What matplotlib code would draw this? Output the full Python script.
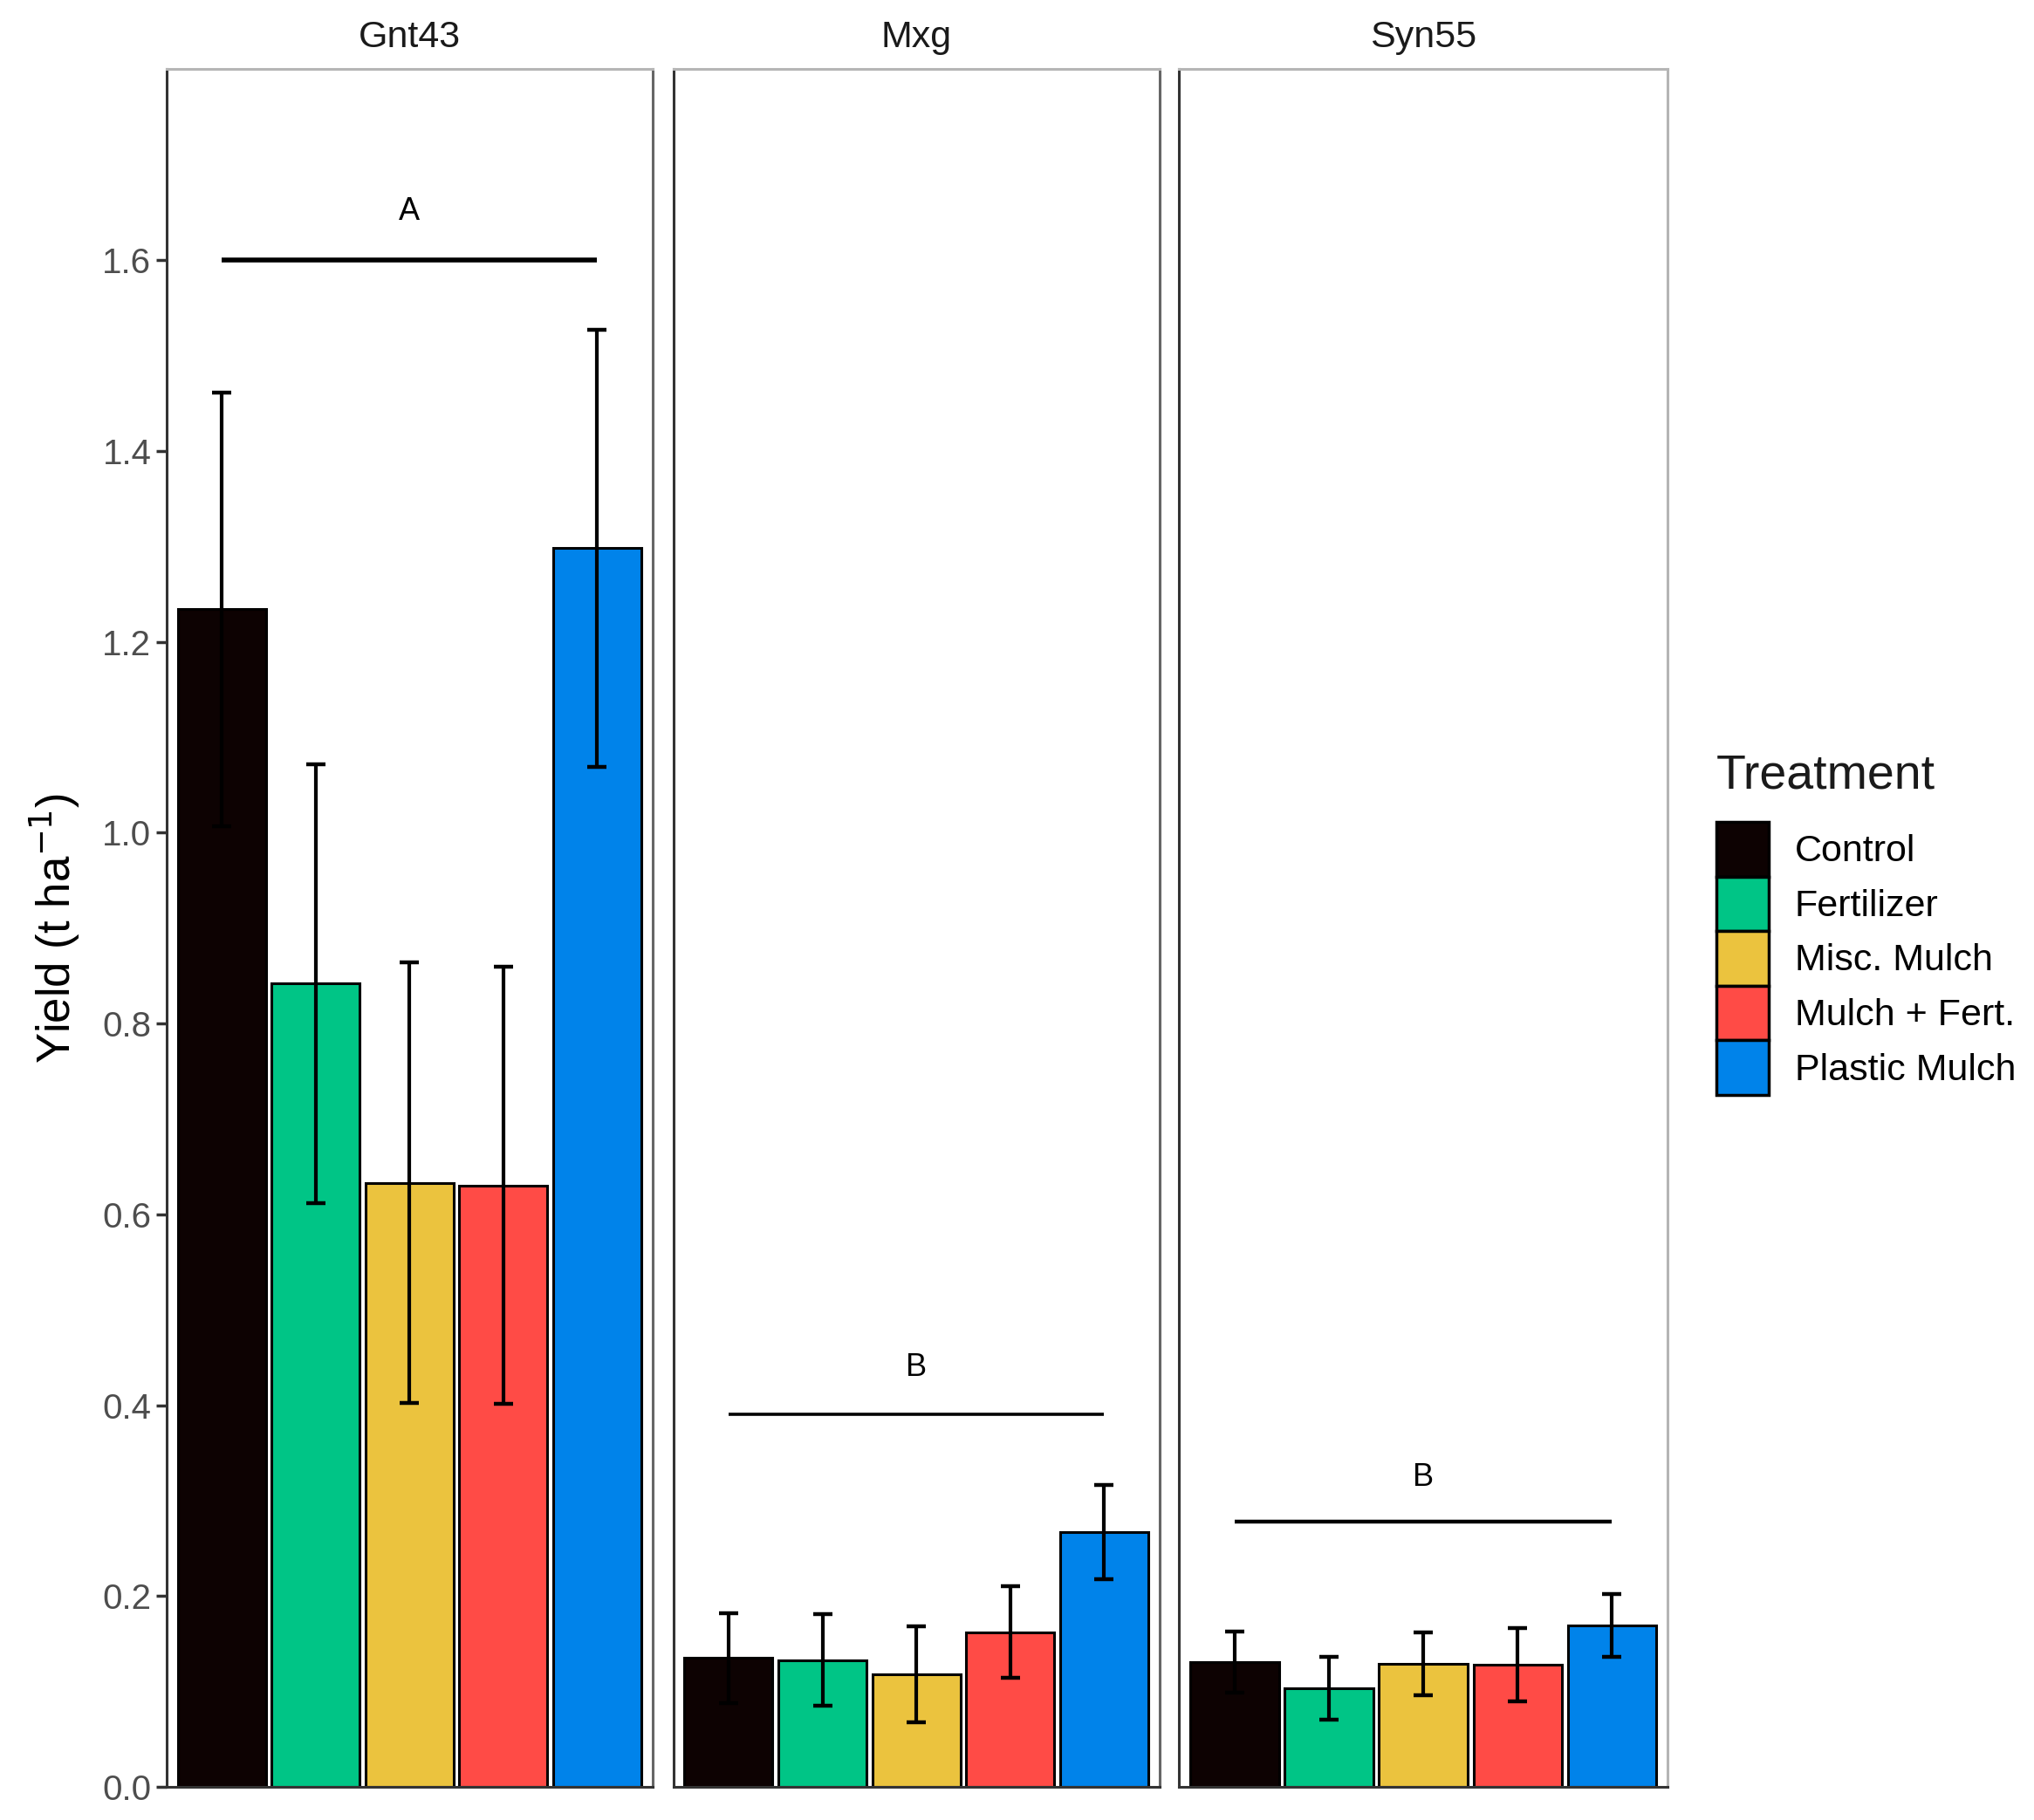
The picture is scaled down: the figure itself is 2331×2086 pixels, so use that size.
import matplotlib
matplotlib.use("Agg")
import matplotlib.pyplot as plt
from matplotlib.patches import Patch
import numpy as np

plt.rcParams['font.family'] = ['Liberation Sans', 'DejaVu Sans']

# ---- data ----
panels = ["Gnt43", "Mxg", "Syn55"]
treatments = ["Control", "Fertilizer", "Misc. Mulch", "Mulch + Fert.", "Plastic Mulch"]
colors = ["#0D0202", "#00C586", "#EBC33E", "#FF4B46", "#0083EA"]

gnt43_mean = [1.234, 0.842, 0.633, 0.630, 1.298]
gnt43_err = [0.227, 0.230, 0.231, 0.229, 0.229]
mxg_mean = [0.135, 0.133, 0.118, 0.162, 0.267]
mxg_err = [0.047, 0.048, 0.050, 0.048, 0.049]
syn55_mean = [0.131, 0.103, 0.129, 0.128, 0.169]
syn55_err = [0.032, 0.033, 0.033, 0.038, 0.033]

sig_letters = ["A", "B", "B"]
sig_line_y = [1.600, 0.390, 0.278]
sig_text_y = [1.651, 0.439, 0.324]

yticks = [0.0, 0.2, 0.4, 0.6, 0.8, 1.0, 1.2, 1.4, 1.6]

means = [gnt43_mean, mxg_mean, syn55_mean]
errs = [gnt43_err, mxg_err, syn55_err]

# ---- figure ----
W, H = 2331, 2086
fig = plt.figure(figsize=(W / 100, H / 100), dpi=100)

panel_x = [(0.0818, 0.3208), (0.3310, 0.5700), (0.5796, 0.8199)]
bottom, top = 0.0182, 0.962

slot = 0.18
barw = 0.169
offsets = (np.arange(5) - 2) * slot
sig_lw = [4.0, 2.6, 3.2]

for p, (x0, x1) in enumerate(panel_x):
    ax = fig.add_axes([x0, bottom, x1 - x0, top - bottom])
    xs = 1 + offsets
    ax.bar(xs, means[p], width=barw, color=colors, edgecolor="black",
           linewidth=2.2, zorder=2)
    ax.errorbar(xs, means[p], yerr=errs[p], fmt="none", ecolor="black",
                elinewidth=3.0, capsize=8, capthick=3.2, zorder=3)
    ax.plot([1 + offsets[0], 1 + offsets[-1]], [sig_line_y[p]] * 2,
            color="black", lw=sig_lw[p], solid_capstyle="butt", zorder=3)
    ax.text(1, sig_text_y[p], sig_letters[p], ha="center", va="center",
            fontsize=26, color="black")
    ax.set_xlim(0.534, 1.466)
    ax.set_ylim(0, 1.8)
    ax.set_xticks([])
    ax.text(0.5, 1.0183, panels[p], transform=ax.transAxes, ha="center",
            va="center", fontsize=31, color="#1A1A1A")
    for s in ["left", "bottom"]:
        ax.spines[s].set_color("#333333")
        ax.spines[s].set_linewidth(2.2)
    ax.spines["top"].set_color("#B5B5B5")
    ax.spines["top"].set_linewidth(2.2)
    ax.spines["right"].set_color("#666666" if p < 2 else "#B5B5B5")
    ax.spines["right"].set_linewidth(2.2)
    if p == 0:
        ax.set_yticks(yticks)
        ax.set_yticklabels([f"{v:.1f}" for v in yticks])
        ax.tick_params(axis="y", labelsize=29, labelcolor="#4D4D4D",
                       color="#333333", length=8.5, width=2.5, pad=4)
    else:
        ax.set_yticks([])

# y-axis title
fig.text(0.027, (bottom + top) / 2, "Yield (t ha$^{-1}$)", rotation=90,
         ha="center", va="center", fontsize=38, color="black")

# legend
fig.text(0.8438, 1 - 890 / H, "Treatment", ha="left", va="center",
         fontsize=40, color="#1A1A1A")
handles = [Patch(facecolor=c, edgecolor="black", linewidth=2.5) for c in colors]
fig.legend(handles, treatments, loc="upper left",
           bbox_to_anchor=(0.8438, 1 - 942 / H), frameon=False,
           fontsize=31, handlelength=1.39, handleheight=1.86,
           labelspacing=0.0, handletextpad=0.7, borderpad=0,
           borderaxespad=0)

fig.savefig("out.png", dpi=100, facecolor="white")
